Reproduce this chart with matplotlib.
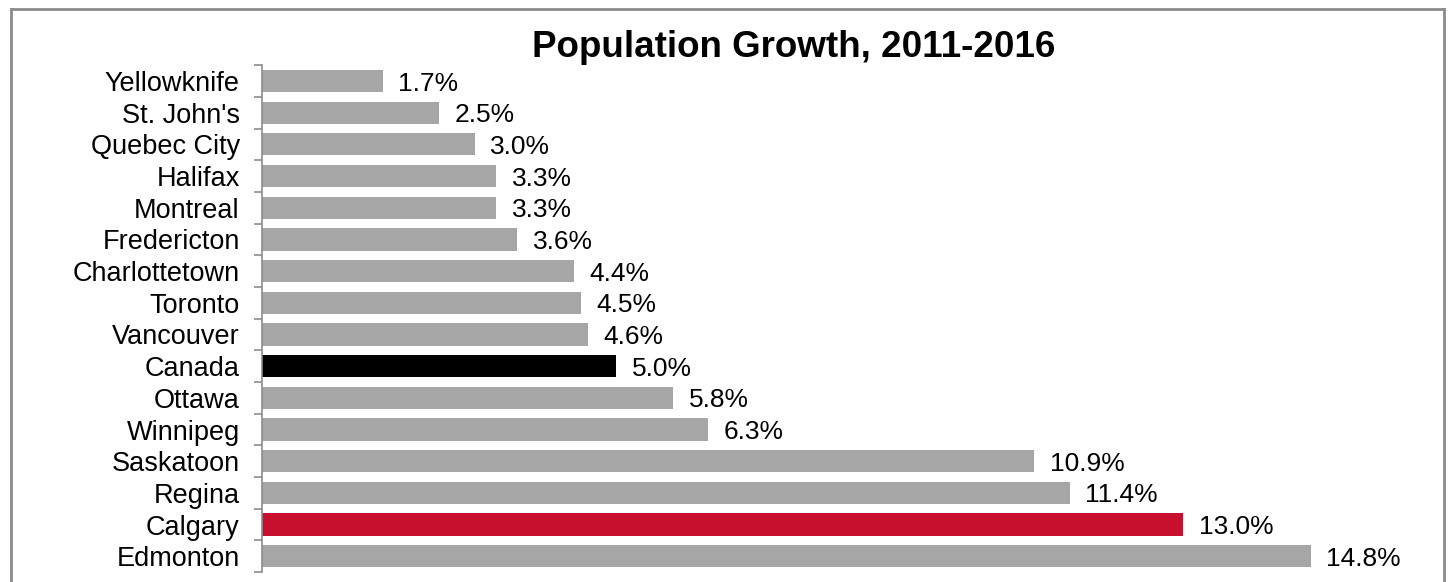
import numpy as np
import matplotlib.pyplot as plt
from matplotlib.lines import Line2D

plt.rcParams['font.family'] = ['Liberation Sans', 'DejaVu Sans']

cities = ["Yellowknife", "St. John's", "Quebec City", "Halifax", "Montreal",
          "Fredericton", "Charlottetown", "Toronto", "Vancouver", "Canada",
          "Ottawa", "Winnipeg", "Saskatoon", "Regina", "Calgary", "Edmonton"]
growth = [1.7, 2.5, 3.0, 3.3, 3.3, 3.6, 4.4, 4.5, 4.6, 5.0,
          5.8, 6.3, 10.9, 11.4, 13.0, 14.8]

colors = []
for c in cities:
    if c == "Canada":
        colors.append("#000000")
    elif c == "Calgary":
        colors.append("#C8102E")
    else:
        colors.append("#A6A6A6")

fig = plt.figure(figsize=(14.48, 5.82), dpi=100)
ax = fig.add_axes([0.181, 0.017, 0.734, 0.871])

y = np.arange(len(cities))
ax.barh(y, growth, height=0.7, color=colors)
for yi, v in zip(y, growth):
    ax.text(v + 0.22, yi + 0.08, "%.1f%%" % v, va="center", ha="left", fontsize=19)

ax.set_xlim(0, 15)
ax.set_ylim(len(cities) - 0.5, -0.5)
ax.set_yticks(y)
ax.set_yticklabels(cities, fontsize=19.5)
ax.set_yticks(np.arange(len(cities) + 1) - 0.5, minor=True)
ax.tick_params(axis="y", which="major", length=0, pad=16)
ax.tick_params(axis="y", which="minor", length=6, width=1.2, color="#8c8c8c")
ax.set_xticks([])

for s in ["top", "right", "bottom"]:
    ax.spines[s].set_visible(False)
ax.spines["left"].set_color("#8c8c8c")
ax.spines["left"].set_linewidth(1.2)

ax.set_title("Population Growth, 2011-2016", fontsize=26.5, fontweight="bold", pad=2)

# outer frame (bottom edge falls outside the picture)
fx0, fx1, fy1 = 11 / 1448, 1444 / 1448, 1 - 9 / 582
frame = dict(color="#8c8c8c", linewidth=2, transform=fig.transFigure)
fig.lines.append(Line2D([fx0, fx0], [0, fy1], **frame))
fig.lines.append(Line2D([fx0, fx1], [fy1, fy1], **frame))
fig.lines.append(Line2D([fx1, fx1], [0, fy1], **frame))

fig.savefig("out.png", dpi=100)
